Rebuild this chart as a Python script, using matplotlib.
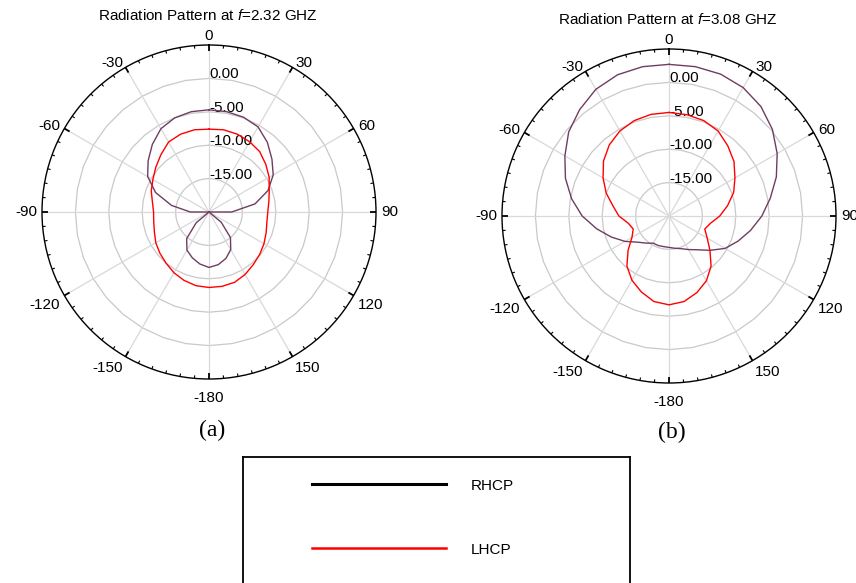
import numpy as np
import matplotlib
matplotlib.use("Agg")
import matplotlib.pyplot as plt
from matplotlib.transforms import offset_copy

plt.rcParams['font.family'] = ['Liberation Sans', 'DejaVu Sans']
plt.rcParams['mathtext.fontset'] = 'custom'
plt.rcParams['mathtext.rm'] = 'Liberation Sans'
plt.rcParams['mathtext.it'] = 'Liberation Sans:italic'

# angle in degrees, clockwise from 0 (350 == -10)
angles = [0, 10, 20, 30, 40, 50, 60, 70, 80, 90, 100, 110, 120, 130, 140, 150, 160, 170,
          180, 190, 200, 210, 220, 230, 240, 250, 260, 270, 280, 290, 300, 310, 320, 330, 340, 350]

# f = 2.32 GHz (dB)
rhcp_a = [-4.7, -4.75, -4.9, -5.3, -6.4, -7.7, -8.9, -10.6, -13.0, -16.6, -20, -20, -20, -17.6,
          -15.0, -13.5, -12.6, -12.0, -11.7, -12.1, -12.7, -13.4, -14.8, -17.5, -20, -20, -20,
          -17.2, -14.3, -11.5, -9.4, -8.1, -6.8, -5.6, -5.0, -4.75]
lhcp_a = [-7.6, -7.5, -7.6, -7.85, -8.2, -8.9, -9.6, -10.4, -10.9, -11.2, -11.2, -10.9, -10.5,
          -10.1, -9.7, -9.2, -8.8, -8.7, -8.7, -8.8, -9.1, -9.5, -10.0, -10.4, -10.8, -11.3,
          -11.6, -11.7, -11.4, -10.8, -10.3, -9.6, -8.8, -7.9, -7.6, -7.5]

# f = 3.08 GHz (dB)
rhcp_b = [2.7, 2.7, 2.6, 2.2, 1.4, 0.2, -1.3, -2.9, -4.6, -6.1, -7.6, -9.0, -10.3, -12.0, -13.4,
          -14.2, -14.8, -15.1, -15.3, -15.35, -15.3, -15.3, -14.7, -13.9, -12.4, -10.8, -9.0,
          -7.0, -5.2, -3.5, -2.0, -0.4, 0.8, 1.9, 2.5, 2.7]
lhcp_b = [-4.5, -4.6, -4.8, -5.3, -6.3, -7.3, -8.6, -9.7, -11.1, -12.4, -13.7, -14.3, -13.4,
          -12.0, -10.2, -8.8, -7.8, -7.0, -6.7, -7.0, -7.9, -8.9, -10.2, -12.0, -13.6, -14.3,
          -13.8, -12.5, -11.5, -10.0, -8.6, -7.2, -6.1, -5.3, -4.8, -4.55]

freqs = ['2.32', '3.08']
tags = ['(a)', '(b)']
ring_levels = [-15, -10, -5, 0]
theta_ticks = [0, 30, 60, 90, 120, 150, 180, 210, 240, 270, 300, 330]
theta_labels = ['0', '30', '60', '90', '120', '150', '-180', '-150', '-120', '-90', '-60', '-30']
series_names = ['RHCP', 'LHCP']

R_MIN, R_MAX = -20, 5
RH_COLOR = '#6f3d62'
LH_COLOR = '#ff0000'

fig = plt.figure(figsize=(8.56, 5.83), dpi=100)


def polar_panel(rect, rh, lh, freq, tag, title_pos, tag_pos):
    ax = fig.add_axes(rect, projection='polar')
    ax.set_theta_zero_location('N')
    ax.set_theta_direction(-1)
    ax.set_yticks([])
    ax.set_rlim(R_MIN, R_MAX)

    ax.set_xticks(np.deg2rad(theta_ticks))
    ax.set_xticklabels([])
    ax.tick_params(axis='x', length=0)
    ax.xaxis.grid(True, color='#d9d9d9', lw=0.9)
    ax.spines['polar'].set_linewidth(1.0)
    ax.spines['polar'].set_color('black')

    # inward ticks on the outer circle: every 5 deg, longer every 30 deg
    minor = [d for d in range(0, 360, 5) if d % 30]
    ax.vlines(np.deg2rad(minor), R_MAX - 0.45, R_MAX, colors='black', lw=0.8,
              clip_on=False, zorder=4)
    ax.vlines(np.deg2rad(theta_ticks), R_MAX - 0.9, R_MAX, colors='black', lw=1.3,
              clip_on=False, zorder=4)

    # rings (slightly faceted like the original)
    ring_th = np.deg2rad(np.arange(0, 361, 10))
    for lvl in ring_levels:
        ax.plot(ring_th, [lvl] * len(ring_th), color='#c9c9c9', lw=0.9, zorder=1)
        ax.text(0, lvl, f'{lvl:.2f}', fontsize=11, ha='left', va='baseline',
                transform=offset_copy(ax.transData, fig=fig, x=0.5, y=0, units='points'),
                zorder=2)

    th = np.deg2rad(angles + [360])
    ax.plot(th, rh + [rh[0]], color=RH_COLOR, lw=1.0, zorder=3)
    ax.plot(th, lh + [lh[0]], color=LH_COLOR, lw=1.0, zorder=3)

    for deg, lab in zip(theta_ticks, theta_labels):
        s, c = np.sin(np.deg2rad(deg)), np.cos(np.deg2rad(deg))
        dx, dy = 3.6 * s, 3.6 * c
        if c < -0.01:
            dy -= 5
        ha = 'left' if s > 0.01 else ('right' if s < -0.01 else 'center')
        va = 'center'
        if deg == 0:
            va, dy = 'bottom', 1.5
        elif deg == 180:
            va = 'top'
        ax.text(np.deg2rad(deg), R_MAX, lab, fontsize=11, ha=ha, va=va, clip_on=False,
                transform=offset_copy(ax.transData, fig=fig, x=dx, y=dy, units='points'))

    fig.text(title_pos[0], title_pos[1], rf'Radiation Pattern at $f$={freq} GHZ',
             fontsize=11, ha='center', va='center')
    fig.text(tag_pos[0], tag_pos[1], tag, family='Liberation Serif', fontsize=17,
             ha='center', va='center')
    return ax


W, H = 856, 583
polar_panel([42 / W, 1 - 379 / H, 334 / W, 334 / H], rhcp_a, lhcp_a, freqs[0], tags[0],
            (208 / W, 1 - 15 / H), (212 / W, 1 - 430 / H))
polar_panel([502 / W, 1 - 383 / H, 334 / W, 334 / H], rhcp_b, lhcp_b, freqs[1], tags[1],
            (668 / W, 1 - 19 / H), (672 / W, 1 - 432 / H))

# legend box (runs off the bottom of the figure, as in the original)
lax = fig.add_axes([243 / W, 1 - 600 / H, 387 / W, 143 / H])
lax.set_xlim(0, 1)
lax.set_ylim(0, 1)
lax.set_xticks([])
lax.set_yticks([])
for sp in lax.spines.values():
    sp.set_linewidth(1.3)
lax.plot([0.178, 0.525], [0.811, 0.811], color='black', lw=2.2)
lax.plot([0.178, 0.525], [0.364, 0.364], color=LH_COLOR, lw=1.8)
lax.text(0.589, 0.797, series_names[0], fontsize=11, ha='left', va='center')
lax.text(0.589, 0.35, series_names[1], fontsize=11, ha='left', va='center')

fig.savefig('out.png', dpi=100)
